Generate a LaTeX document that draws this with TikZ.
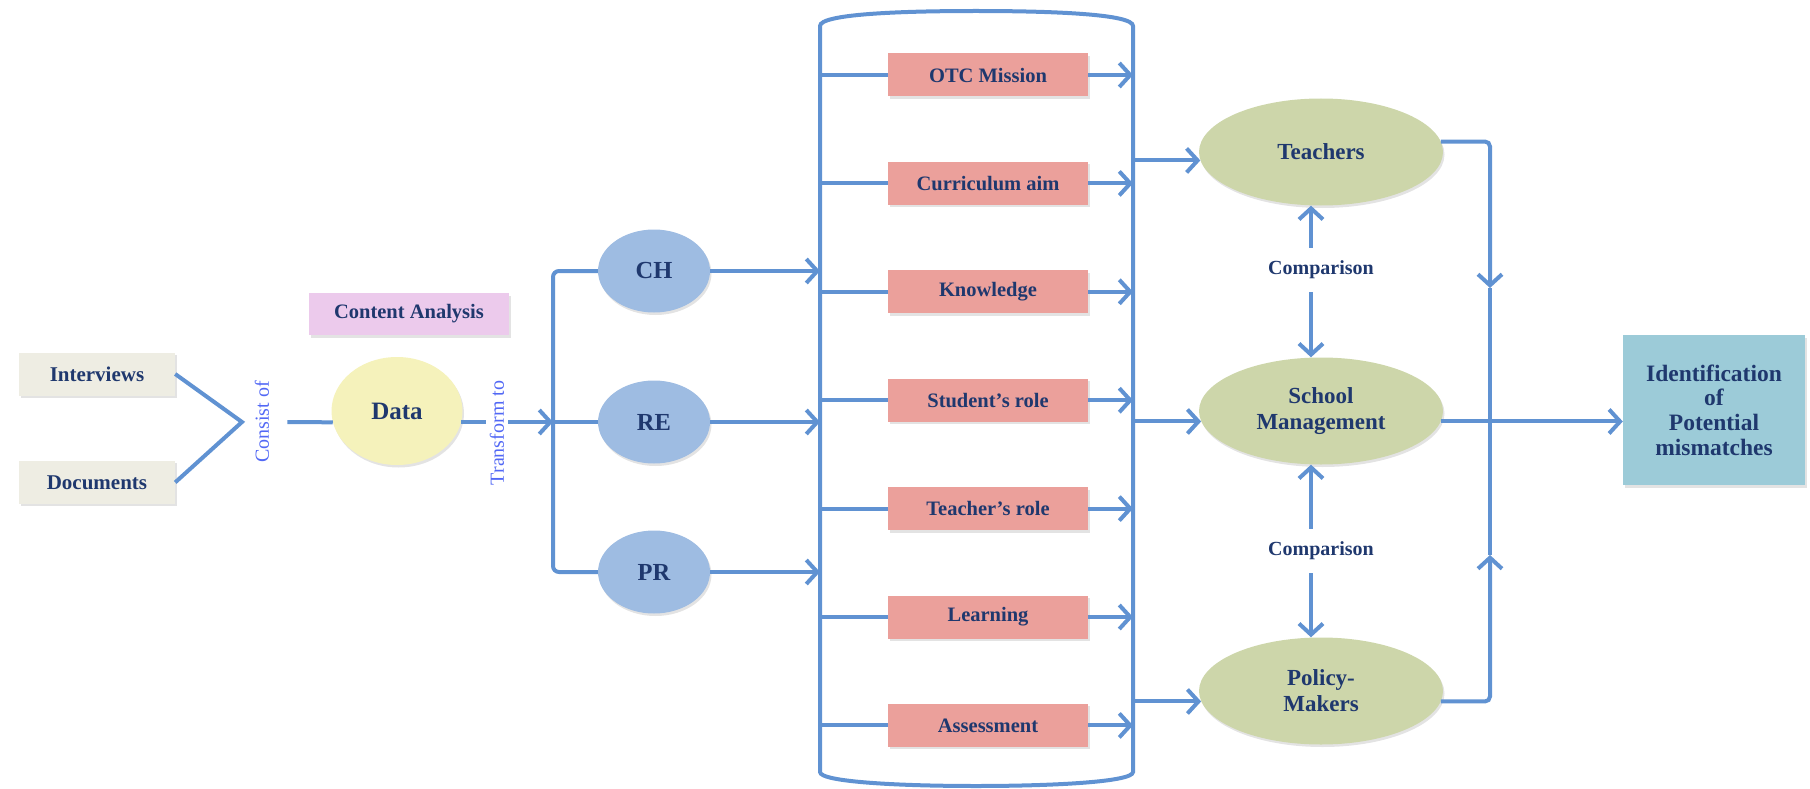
\documentclass[tikz,border=0pt]{standalone}
\usepackage{fontspec}
\setmainfont{Liberation Serif}
\usetikzlibrary{arrows.meta,positioning,shapes.geometric,shadows}

\definecolor{flowblue}{RGB}{96,146,210}
\definecolor{inkblue}{RGB}{31,56,110}
\definecolor{noteblue}{RGB}{82,104,245}
\definecolor{srcfill}{RGB}{238,237,227}
\definecolor{lavfill}{RGB}{236,202,236}
\definecolor{yelfill}{RGB}{245,242,187}
\definecolor{skyfill}{RGB}{158,188,226}
\definecolor{salfill}{RGB}{235,160,155}
\definecolor{grnfill}{RGB}{205,214,170}
\definecolor{tealfill}{RGB}{156,203,216}

\newcommand{\boxfont}[1]{\fontsize{#1}{26}\selectfont\bfseries}

\begin{document}
\begin{tikzpicture}[
    x=1pt, y=-1pt,
    node distance=65pt,
    shade/.style={drop shadow={opacity=0.22, shadow xshift=1.5pt, shadow yshift=-2.5pt}},
    source/.style={rectangle, fill=srcfill, shade, minimum width=156pt, minimum height=43pt, font=\boxfont{21}, text=inkblue},
    topic/.style={rectangle, fill=salfill, shade, minimum width=200pt, minimum height=43pt, font=\boxfont{20.5}, text=inkblue},
    strand/.style={ellipse, fill=skyfill, shade, minimum width=112pt, minimum height=83pt, font=\boxfont{24.5}, text=inkblue},
    actor/.style={ellipse, fill=grnfill, shade, minimum width=244pt, minimum height=107pt, font=\boxfont{23}, text=inkblue, align=center},
    note/.style={font=\fontsize{20}{22}\selectfont, text=noteblue, inner xsep=0pt, inner ysep=4pt},
    cmp/.style={font=\boxfont{20}, text=inkblue, inner xsep=2pt, inner ysep=13pt},
    flow/.style={draw=flowblue, line width=4pt},
    arr/.style={flow, -{Straight Barb[length=11pt,width=24pt]}}
]
    \useasboundingbox (0,0) rectangle (1810,789);

    % sources and data
    \node[source] (intv) at (97,374) {Interviews};
    \node[source, below=65pt of intv] (docs) {Documents};
    \node[rectangle, fill=lavfill, shade, minimum width=200pt, minimum height=42pt, font=\boxfont{20.5}, text=inkblue] (cont) at (409,314) {Content Analysis};
    \node[ellipse, fill=yelfill, shade, minimum width=131pt, minimum height=108pt, font=\boxfont{25}, text=inkblue] (data) at (397,411) {Data};
    \node[note, rotate=90, inner ysep=18pt] (consist) at (262,422) {Consist of};
    \node[note, rotate=90] (trans) at (497,433) {Transform to};
    \coordinate (vtx) at (242,422);
    \coordinate (fork) at (553,422);

    \draw[flow] (intv.east) -- (vtx) -- (docs.east);
    \draw[flow] (consist.south) -- (data.190);
    \draw[flow] (data.-10) -- (data.-10 -| trans.north);
    \draw[arr] (trans.south |- fork) -- (fork);

    % three strands
    \node[strand] (ch) at (654,271) {CH};
    \node[strand] (re) at (654,422) {RE};
    \node[strand] (pr) at (654,572) {PR};
    \draw[flow, rounded corners=6pt] (ch.west) -| (fork) |- (pr.west);
    \draw[flow] (fork) -- (re.west);

    % container of topics
    \coordinate (binL) at (820,400);
    \coordinate (binR) at (1133,400);
    \draw[flow] (820,772) -- (820,26) .. controls (820,14) and (900,11) .. (976,11)
        .. controls (1052,11) and (1133,14) .. (1133,26) -- (1133,772)
        .. controls (1133,782) and (1052,786) .. (976,786)
        .. controls (900,786) and (820,782) .. (820,772) -- cycle;
    \foreach \s in {ch,re,pr}
        \draw[arr] (\s.east) -- (\s.east -| binL);

    \node[topic] (om) at (988,75) {OTC Mission};
    \node[topic, below=of om] (ca) {Curriculum aim};
    \node[topic, below=of ca] (kn) {Knowledge};
    \node[topic, below=of kn] (sr) {Student’s role};
    \node[topic, below=of sr] (tr) {Teacher’s role};
    \node[topic, below=of tr] (le) {Learning};
    \node[topic, below=of le] (as) {Assessment};
    \foreach \t in {om,ca,kn,sr,tr,le,as} {
        \draw[flow] (\t.west -| binL) -- (\t.west);
        \draw[arr] (\t.east) -- (\t.east -| binR);
    }

    % stakeholders
    \node[actor] (teach) at (1321,152) {Teachers};
    \node[actor] (sm) at (1321,411) {School\\Management};
    \node[actor] (pol) at (1321,691) {Policy-\\Makers};
    \node[rectangle, fill=tealfill, shade, minimum width=182pt, minimum height=150pt, align=center, font=\fontsize{23.5}{24.7}\selectfont\bfseries, text=inkblue] (ident) at (1714,410) {Identification\\of\\Potential\\mismatches};

    \draw[arr] (teach.184 -| binR) -- (teach.184);
    \draw[arr] (sm.185 -| binR) -- (sm.185);
    \draw[arr] (pol.185 -| binR) -- (pol.185);

    \node[cmp] (cmp1) at (1321,270) {Comparison};
    \node[cmp] (cmp2) at (1321,551) {Comparison};
    \draw[arr] ([xshift=-10pt]cmp1.north) -- ([xshift=-10pt]cmp1.north |- teach.south);
    \draw[arr] ([xshift=-10pt]cmp1.south) -- ([xshift=-10pt]cmp1.south |- sm.north);
    \draw[arr] ([xshift=-10pt]cmp2.north) -- ([xshift=-10pt]cmp2.north |- sm.south);
    \draw[arr] ([xshift=-10pt]cmp2.south) -- ([xshift=-10pt]cmp2.south |- pol.north);

    % gathering line and result
    \coordinate (rdown) at (1490,288);
    \coordinate (rup) at (1490,555);
    \draw[arr, rounded corners=5pt] (teach.5) -| (rdown);
    \draw[flow] (rdown) -- (rup);
    \draw[arr, rounded corners=5pt] (pol.-5) -| (rup);
    \draw[arr] (sm.-5) -- (sm.-5 -| ident.west);
\end{tikzpicture}
\end{document}
